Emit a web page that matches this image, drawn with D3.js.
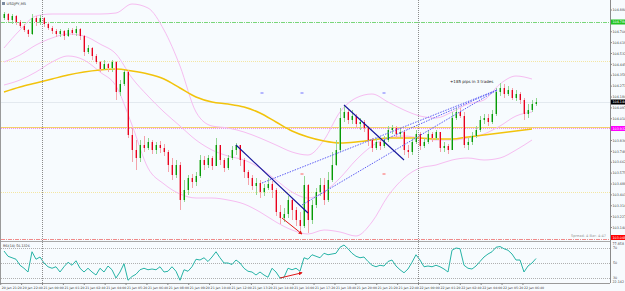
<!doctype html>
<html>
<head>
<meta charset="utf-8">
<title>USDJPY,M5</title>
<script src="https://cdnjs.cloudflare.com/ajax/libs/d3/7.8.5/d3.min.js"></script>
<style>
  body { margin: 0; background: #f7fbfe; }
  svg text { font-family: "DejaVu Sans", sans-serif; }
</style>
</head>
<body>
<div id="chart"></div>
<script>
// ---- data ----
const firstOpen = 104.816;
const closes = [104.848,104.800,104.832,104.784,104.752,104.720,104.688,104.816,104.784,104.816,
  104.768,104.736,104.712,104.688,104.712,104.672,104.720,104.696,104.728,104.672,
  104.544,104.576,104.512,104.464,104.408,104.448,104.416,104.464,104.224,104.288,
  104.384,103.880,103.760,103.696,103.800,103.776,103.824,103.760,103.800,103.776,
  103.744,103.640,103.560,103.640,103.360,103.440,103.536,103.504,103.552,103.680,
  103.640,103.696,103.632,103.800,103.680,103.616,103.696,103.760,103.800,103.680,
  103.584,103.536,103.472,103.496,103.424,103.456,103.488,103.440,103.264,103.216,
  103.248,103.360,103.280,103.200,103.152,103.480,103.200,103.320,103.424,103.480,
  103.360,103.520,103.640,103.760,104.016,104.064,104.000,104.032,103.968,103.984,
  103.936,103.840,103.776,103.824,103.792,103.840,103.920,103.936,103.888,103.904,
  103.760,103.744,103.824,103.888,103.792,103.824,103.888,103.856,103.904,103.776,
  103.792,103.760,104.016,104.064,104.032,103.800,103.824,103.872,103.920,104.000,
  104.016,103.984,104.048,104.224,104.256,104.208,104.240,104.176,104.208,104.160,
  104.048,104.080,104.128,104.144];
const highs = [104.864,104.856,104.848,104.840,104.800,104.768,104.728,104.848,104.832,104.840,
  104.824,104.784,104.752,104.728,104.728,104.720,104.736,104.736,104.752,104.736,
  104.680,104.600,104.584,104.528,104.472,104.480,104.456,104.480,104.470,104.320,
  104.400,104.400,103.936,103.840,103.840,103.872,103.856,103.840,103.824,103.832,
  103.808,103.760,103.696,103.680,103.664,103.520,103.560,103.568,103.584,103.720,
  103.712,103.720,103.712,103.856,103.800,103.696,103.720,103.792,103.816,103.800,
  103.696,103.600,103.560,103.536,103.520,103.488,103.536,103.512,103.456,103.320,
  103.296,103.392,103.376,103.304,103.264,103.552,103.488,103.360,103.456,103.536,
  103.536,103.584,103.744,103.840,104.096,104.120,104.080,104.080,104.048,104.016,
  104.000,103.952,103.856,103.856,103.840,103.872,103.952,103.960,103.952,103.936,
  103.920,103.800,103.856,103.920,103.904,103.856,103.920,103.904,103.920,103.904,
  103.824,103.808,104.064,104.096,104.096,104.064,103.856,103.904,103.952,104.032,
  104.048,104.048,104.080,104.256,104.296,104.288,104.272,104.256,104.240,104.224,
  104.176,104.128,104.160,104.176];
const lows = [104.800,104.784,104.768,104.760,104.736,104.704,104.664,104.680,104.752,104.760,
  104.744,104.720,104.688,104.664,104.664,104.640,104.664,104.680,104.672,104.640,
  104.512,104.528,104.480,104.448,104.384,104.400,104.384,104.384,104.160,104.192,
  104.272,103.856,103.664,103.600,103.664,103.744,103.760,103.728,103.728,103.736,
  103.712,103.584,103.520,103.536,103.280,103.344,103.400,103.456,103.472,103.536,
  103.600,103.616,103.600,103.632,103.640,103.584,103.600,103.680,103.720,103.632,
  103.536,103.480,103.440,103.400,103.376,103.392,103.440,103.376,103.232,103.168,
  103.184,103.216,103.200,103.152,103.104,103.136,103.096,103.168,103.296,103.392,
  103.320,103.344,103.504,103.632,103.744,103.984,103.968,103.968,103.936,103.920,
  103.904,103.792,103.744,103.760,103.760,103.776,103.824,103.888,103.856,103.856,
  103.720,103.696,103.720,103.808,103.760,103.776,103.808,103.824,103.840,103.744,
  103.744,103.728,103.760,104.000,104.016,103.776,103.760,103.800,103.856,103.904,
  103.968,103.952,103.968,104.032,104.192,104.176,104.192,104.160,104.152,104.128,
  104.000,104.016,104.064,104.112];

const rsi = [66,59,57,55,47,43,38,65,55,58,
  50,45,43,45,38,45,51,47,53,43,
  38,43,38,34,43,38,46,41,30,38,
  49,27,32,35,41,43,41,42,41,45,
  38,39,45,39,27,41,39,45,55,54,
  57,52,58,65,57,50,50,48,54,50,
  43,39,38,34,38,34,31,43,38,30,
  31,43,41,43,39,57,55,61,59,57,
  63,61,62,63,71,74,69,63,59,57,
  58,52,47,45,47,46,52,54,46,41,
  37,42,51,61,54,45,46,45,47,45,
  42,38,67,70,69,47,43,42,46,52,
  58,62,65,71,72,69,67,62,54,54,
  38,46,50,56];

// bands and the slow moving average, sampled every 4 bars
const bandIdx = [0,4,8,12,16,20,24,28,32,36,40,44,48,52,56,60,64,68,72,76,80,84,88,92,96,100,104,108,112,116,120,124,128,132];
const bandUpper = [104.576,104.720,104.832,104.848,104.848,104.848,104.848,104.856,104.928,104.896,
  104.720,104.432,104.064,103.952,103.936,103.904,103.856,103.800,103.744,103.720,
  103.840,104.064,104.176,104.208,104.144,104.080,104.032,104.016,104.064,104.128,
  104.160,104.288,104.352,104.328];
const bandMiddle = [104.464,104.520,104.600,104.656,104.688,104.672,104.608,104.528,104.336,104.192,
  104.064,103.952,103.840,103.760,103.712,103.680,103.616,103.520,103.424,103.376,
  103.424,103.536,103.680,103.792,103.856,103.872,103.856,103.840,103.840,103.856,
  103.888,103.952,104.032,104.064];
const bandLower = [104.280,104.320,104.384,104.464,104.512,104.480,104.384,104.272,103.960,103.616,
  103.488,103.408,103.376,103.376,103.360,103.328,103.264,103.184,103.120,103.088,
  103.120,103.104,103.072,103.184,103.392,103.536,103.616,103.640,103.680,103.696,
  103.680,103.696,103.760,103.840];
const ma200 = [104.224,104.264,104.296,104.328,104.360,104.384,104.400,104.408,104.392,104.368,
  104.328,104.256,104.184,104.144,104.128,104.104,104.056,103.984,103.912,103.864,
  103.832,103.816,103.824,103.840,103.856,103.856,103.856,103.848,103.848,103.864,
  103.880,103.896,103.912,103.928];

// horizontal objects: green, yellow dotted, yellow, magenta dotted, yellow dotted, red
const levels = [104.784, 104.472, 103.948, 103.932, 103.424, 103.048];

// drawn trend lines [bar, price] -> [bar, price]
const trendLines = [[[58, 103.800], [76, 103.256]], [[85, 104.120], [100, 103.680]]];
// buy trades: open bar, open price, close bar, close price
const tradeOpenBar = [64.5, 74.5, 95];
const tradeOpenPrice = [103.496, 103.320, 103.840];
const tradeCloseBar = 123.25;
const tradeClosePrice = 104.240;
const takeProfit = 104.216;
const stopLoss = 103.568;

const priceTicks = ["104.880","104.793","104.706","104.619","104.532","104.445","104.358","104.271",
  "104.184","104.097","104.010","103.923","103.836","103.749","103.662","103.575","103.488",
  "103.401","103.314","103.227","103.140"];
const rsiTicks = [70, 50, 30];
const timeLabels = ["20 Jan 21:20","20 Jan 22:40","21 Jan 00:00","21 Jan 01:20","21 Jan 02:40",
  "21 Jan 04:00","21 Jan 05:20","21 Jan 06:40","21 Jan 08:00","21 Jan 09:20","21 Jan 10:40",
  "21 Jan 12:00","21 Jan 13:20","21 Jan 14:40","21 Jan 16:00","21 Jan 17:20","21 Jan 18:40",
  "21 Jan 20:00","21 Jan 21:20","21 Jan 22:40","22 Jan 00:00","22 Jan 01:20","22 Jan 02:40",
  "22 Jan 04:00","22 Jan 05:20","22 Jan 06:40"];
const separators = ["21 Jan 00:00", "22 Jan 00:00"];

// ---- layout ----
const W = 625, H = 291, R = 610;
const mainTop = 0, mainBot = 240, rsiTop = 242, rsiBot = 283;

const svg = d3.select('#chart').append('svg')
  .attr('width', W).attr('height', H);
svg.append('rect').attr('width', W).attr('height', H).attr('fill', '#f7fbfe');

const parseT = d3.timeParse("%d %b %H:%M");
const x = d3.scaleLinear().domain([0, closes.length - 1]).range([4, 536]);
const xt = d3.scaleTime().domain([parseT("21 Jan 00:00"), parseT("22 Jan 00:00")]).range([42, 418]);
const y = d3.scaleLinear().domain([103.04, 104.96]).range([mainBot, mainTop]);
const yr = d3.scaleLinear().domain([30, 70]).range([278, 248]);

const defs = svg.append('defs');
defs.append('clipPath').attr('id', 'clipMain').append('rect')
  .attr('x', 1).attr('y', mainTop).attr('width', R - 1).attr('height', mainBot - mainTop);
defs.append('clipPath').attr('id', 'clipRsi').append('rect')
  .attr('x', 1).attr('y', rsiTop).attr('width', R - 1).attr('height', rsiBot - rsiTop);

const main = svg.append('g').attr('clip-path', 'url(#clipMain)');
const sub = svg.append('g').attr('clip-path', 'url(#clipRsi)');

// period separators
separators.forEach(s => {
  const xs = Math.round(xt(parseT(s))) + 0.5;
  svg.append('line').attr('x1', xs).attr('x2', xs).attr('y1', 0).attr('y2', rsiBot)
    .attr('stroke', '#8c8c8c').attr('stroke-dasharray', '1,1');
});

// horizontal objects
const levelStyle = [
  { c: '#7ad67a', d: '4,1,1,1' },
  { c: '#f4e6a2', d: '1,1' },
  { c: '#f3d06a', d: null },
  { c: '#f090f0', d: '1,1' },
  { c: '#f4e6a2', d: '1,1' },
  { c: '#f08a8a', d: '4,1,1,1' }
];
levels.forEach((v, i) => {
  main.append('line').attr('x1', 1).attr('x2', R)
    .attr('y1', Math.round(y(v)) + 0.5).attr('y2', Math.round(y(v)) + 0.5)
    .attr('stroke', levelStyle[i].c).attr('stroke-dasharray', levelStyle[i].d);
});

// bid line
const last = closes[closes.length - 1];
main.append('line').attr('x1', 1).attr('x2', R)
  .attr('y1', Math.round(y(last)) + 0.5).attr('y2', Math.round(y(last)) + 0.5)
  .attr('stroke', '#e3e9ef');

// bollinger bands
const bandLine = d3.line().x(d => x(d[0])).y(d => y(d[1])).curve(d3.curveMonotoneX);
[bandUpper, bandMiddle, bandLower].forEach(arr => {
  main.append('path').datum(bandIdx.map((b, i) => [b, arr[i]]))
    .attr('d', bandLine).attr('fill', 'none').attr('stroke', '#f6bdf1').attr('stroke-width', 1);
});

// slow MA
main.append('path').datum(bandIdx.map((b, i) => [b, ma200[i]]))
  .attr('d', bandLine).attr('fill', 'none').attr('stroke', '#f2c30c').attr('stroke-width', 1.5);

// candles
const bars = closes.map((c, i) => ({
  i, o: i ? closes[i - 1] : firstOpen, c, h: highs[i], l: lows[i]
}));
const candle = main.selectAll('g.candle').data(bars).join('g').attr('class', 'candle');
candle.append('line')
  .attr('x1', d => Math.round(x(d.i)) + 0.5).attr('x2', d => Math.round(x(d.i)) + 0.5)
  .attr('y1', d => y(d.h)).attr('y2', d => y(d.l))
  .attr('stroke', d => d.c >= d.o ? '#93d693' : '#f4a3ab');
candle.append('rect')
  .attr('x', d => Math.round(x(d.i)) - 1).attr('width', 2)
  .attr('y', d => y(Math.max(d.o, d.c)))
  .attr('height', d => Math.max(1, Math.abs(y(d.o) - y(d.c))))
  .attr('fill', d => d.c >= d.o ? '#8fd48f' : '#f49aa4');
candle.append('rect')
  .attr('x', d => Math.round(x(d.i))).attr('width', 1)
  .attr('y', d => y(Math.max(d.o, d.c)))
  .attr('height', d => Math.max(1, Math.abs(y(d.o) - y(d.c))))
  .attr('fill', d => d.c >= d.o ? '#079a07' : '#e8001e');

// trade history (dotted) and TP / SL marks
tradeOpenBar.forEach((b, k) => {
  main.append('line')
    .attr('x1', x(b)).attr('y1', y(tradeOpenPrice[k]))
    .attr('x2', x(tradeCloseBar)).attr('y2', y(tradeClosePrice))
    .attr('stroke', '#5b5bf5').attr('stroke-width', 1).attr('stroke-dasharray', '1.5,1.2');
  main.append('line').attr('x1', x(b) - 1.5).attr('x2', x(b) + 1.5)
    .attr('y1', y(takeProfit)).attr('y2', y(takeProfit))
    .attr('stroke', '#7070ff').attr('stroke-width', 1);
  if (k > 0) {
    main.append('line').attr('x1', x(b) - 1.5).attr('x2', x(b) + 1.5)
      .attr('y1', y(stopLoss)).attr('y2', y(stopLoss))
      .attr('stroke', '#ff6060').attr('stroke-width', 1);
  }
});

// drawn trend lines
trendLines.forEach(t => {
  main.append('line')
    .attr('x1', x(t[0][0])).attr('y1', y(t[0][1]))
    .attr('x2', x(t[1][0])).attr('y2', y(t[1][1]))
    .attr('stroke', '#14149a').attr('stroke-width', 1.1);
});

// divergence arrows (price and rsi)
defs.append('marker').attr('id', 'arr').attr('viewBox', '0 0 6 6').attr('refX', 5).attr('refY', 3)
  .attr('markerWidth', 4).attr('markerHeight', 4).attr('orient', 'auto')
  .append('path').attr('d', 'M0,0L6,3L0,6Z').attr('fill', '#e01818');
main.append('line').attr('x1', x(69.5)).attr('y1', y(103.216)).attr('x2', x(74.5)).attr('y2', y(103.088))
  .attr('stroke', '#e01818').attr('stroke-width', 1).attr('marker-end', 'url(#arr)');

main.append('text').attr('x', 450).attr('y', 83).attr('font-size', 4).attr('fill', '#222')
  .text('+185 pips in 3 trades');
main.append('text').attr('x', 606).attr('y', 236.5).attr('font-size', 3.6).attr('fill', '#9a9a9a')
  .attr('text-anchor', 'end').text('Spread: 4     Bar: 4:47');

// title
svg.append('rect').attr('x', 2).attr('y', 2).attr('width', 3).attr('height', 3).attr('fill', '#7a8aa0');
svg.append('text').attr('x', 6.5).attr('y', 5.2).attr('font-size', 3.6).attr('fill', '#333').text('USDJPY,M5');

// ---- RSI window ----
svg.append('line').attr('x1', 0).attr('x2', R).attr('y1', 241.5).attr('y2', 241.5).attr('stroke', '#a8a8a8');
rsiTicks.forEach(v => {
  sub.append('line').attr('x1', 1).attr('x2', R)
    .attr('y1', Math.round(yr(v)) + 0.5).attr('y2', Math.round(yr(v)) + 0.5)
    .attr('stroke', '#b0b0b0').attr('stroke-dasharray', '1,1');
});
sub.append('path').datum(rsi)
  .attr('d', d3.line().x((d, i) => x(i)).y(d => yr(d)))
  .attr('fill', 'none').attr('stroke', '#27b3a6').attr('stroke-width', 1);
sub.append('line').attr('x1', x(69)).attr('y1', yr(30)).attr('x2', x(74.5)).attr('y2', yr(37))
  .attr('stroke', '#e01818').attr('stroke-width', 1).attr('marker-end', 'url(#arr)');
svg.append('text').attr('x', 3).attr('y', 246.5).attr('font-size', 3.3).attr('fill', '#333')
  .text('RSI(14) 56.1326');

// ---- axes ----
svg.append('line').attr('x1', 0.5).attr('x2', 0.5).attr('y1', 0).attr('y2', rsiBot).attr('stroke', '#9a9a9a');
svg.append('line').attr('x1', R + 0.5).attr('x2', R + 0.5).attr('y1', 0).attr('y2', rsiBot).attr('stroke', '#8a8a8a');
svg.append('line').attr('x1', 0).attr('x2', R).attr('y1', rsiBot + 0.5).attr('y2', rsiBot + 0.5).attr('stroke', '#9a9a9a');

const marks = [
  { v: levels[0], fill: '#22c422' },
  { v: last, fill: '#000000' },
  { v: levels[3], fill: '#ff00ff' },
  { v: levels[5], fill: '#ff0000' }
];
priceTicks.forEach(t => {
  const yy = y(+t);
  if (marks.some(m => Math.abs(y(m.v) - yy) < 4.5)) return;
  svg.append('line').attr('x1', R).attr('x2', R + 2).attr('y1', yy).attr('y2', yy).attr('stroke', '#8a8a8a');
  svg.append('text').attr('x', R + 2.5).attr('y', yy + 1.2).attr('font-size', 3.3).attr('fill', '#444').text(t);
});
marks.forEach(m => {
  const yy = Math.min(y(m.v), mainBot - 2.5);
  svg.append('rect').attr('x', R + 1).attr('y', yy - 2.5).attr('width', W - R - 1).attr('height', 5).attr('fill', m.fill);
  svg.append('text').attr('x', R + 2.5).attr('y', yy + 1.2).attr('font-size', 3.3).attr('fill', '#fff')
    .text(m.v.toFixed(3));
});

rsiTicks.forEach(v => {
  svg.append('text').attr('x', R + 3).attr('y', yr(v) + 1.2).attr('font-size', 3.3).attr('fill', '#444').text(v);
});
svg.append('text').attr('x', R + 2.5).attr('y', 245).attr('font-size', 3.3).attr('fill', '#444').text('77.858');
svg.append('text').attr('x', R + 2.5).attr('y', 283).attr('font-size', 3.3).attr('fill', '#444').text('22.142');

timeLabels.forEach(s => {
  const xx = xt(parseT(s));
  svg.append('line').attr('x1', xx + 0.5).attr('x2', xx + 0.5).attr('y1', rsiBot).attr('y2', rsiBot + 2)
    .attr('stroke', '#8a8a8a');
  svg.append('text').attr('x', xx + 1.5).attr('y', 288.5).attr('font-size', 3.2).attr('fill', '#444').text(s);
});
</script>
</body>
</html>
